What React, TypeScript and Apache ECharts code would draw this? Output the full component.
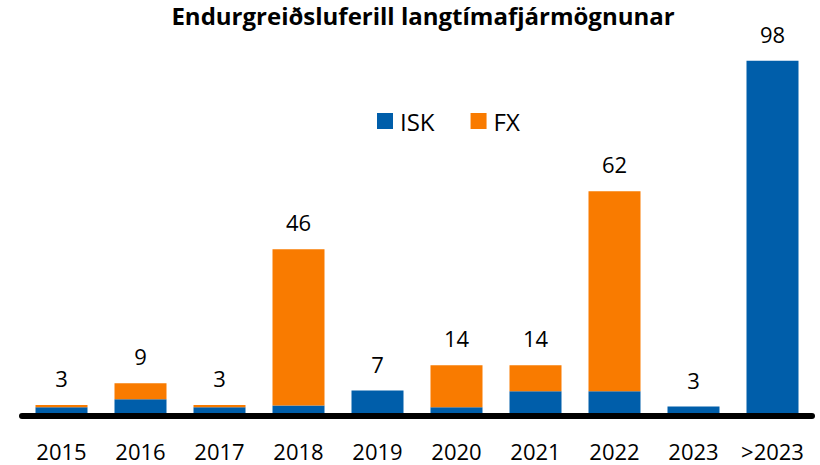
import React, { useEffect, useRef } from "react";
import * as echarts from "echarts";

const categories = ["2015", "2016", "2017", "2018", "2019", "2020", "2021", "2022", "2023", ">2023"];
const iskValues = [2.4, 4.6, 2.4, 2.9, 7, 2.4, 6.8, 6.8, 2.6, 98];
const fxValues = [0.6, 4.4, 0.6, 43.1, 0, 11.6, 7.2, 55.2, 0, 0];
const totalLabels = [3, 9, 3, 46, 7, 14, 14, 62, 3, 98];

const FONT = "'Open Sans', sans-serif";

export default function App() {
  const ref = useRef<HTMLDivElement>(null);
  useEffect(() => {
    if (!ref.current) return;
    const chart = echarts.init(ref.current, undefined, { renderer: "svg" });
    chart.setOption({
      animation: false,
      title: {
        text: "Endurgreiðsluferill langtímafjármögnunar",
        left: 418,
        top: 0,
        padding: [1, 5, 0, 5],
        textAlign: "center",
        textStyle: { fontFamily: FONT, fontWeight: "bold", fontSize: 24, lineHeight: 28, color: "#000" },
      },
      legend: {
        left: 372,
        top: 104,
        itemWidth: 16,
        itemHeight: 16,
        itemGap: 36,
        icon: "rect",
        textStyle: { fontFamily: FONT, fontSize: 24, color: "#000", padding: [0, 0, 0, 2] },
        data: ["ISK", "FX"],
      },
      grid: { left: 22, right: 8, top: 53.4, bottom: 49, containLabel: false },
      xAxis: {
        type: "category",
        data: categories,
        z: 10,
        axisLine: { lineStyle: { color: "#000", width: 6 } },
        axisTick: { show: false },
        axisLabel: { interval: 0, fontFamily: FONT, fontSize: 22, lineHeight: 22, color: "#000", margin: 24 },
      },
      yAxis: {
        type: "value",
        min: 0,
        max: 100,
        show: false,
        splitLine: { show: false },
      },
      series: [
        {
          name: "ISK",
          type: "bar",
          stack: "total",
          barWidth: 52,
          itemStyle: { color: "#005EAA" },
          data: iskValues,
        },
        {
          name: "FX",
          type: "bar",
          stack: "total",
          barWidth: 52,
          itemStyle: { color: "#F97B00" },
          data: fxValues,
          label: {
            show: true,
            position: "top",
            distance: 16,
            fontFamily: FONT,
            fontSize: 22,
            color: "#000",
            formatter: (p: any) => String(totalLabels[p.dataIndex]),
          },
        },
      ],
    });
    return () => chart.dispose();
  }, []);
  return <div ref={ref} style={{ width: 820, height: 465, position: "absolute", left: 0, top: 0 }} />;
}
